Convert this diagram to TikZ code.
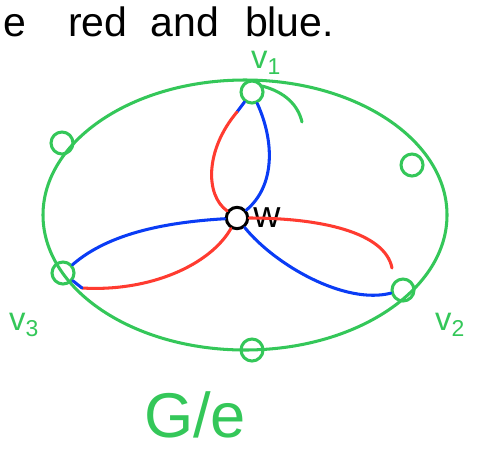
\documentclass[tikz,border=0pt]{standalone}
\usepackage{fontspec}
\setmainfont{Liberation Sans}
\usetikzlibrary{positioning}
\definecolor{grn}{RGB}{52,199,89}
\definecolor{rd}{RGB}{255,59,48}
\definecolor{bl}{RGB}{10,60,245}
\tikzset{
  vtx/.style={circle, draw=grn, line width=2.6pt, minimum size=0.66cm, inner sep=0pt},
  redline/.style={draw=rd, line width=2.6pt, line cap=round},
  blueline/.style={draw=bl, line width=2.6pt, line cap=round},
  greenline/.style={draw=grn, line width=2.6pt, line cap=round},
  lbl/.style={text=grn, font=\fontsize{28}{32}\selectfont}
}
\begin{document}
\begin{tikzpicture}[x=0.03cm, y=-0.03cm]
                \useasboundingbox (0,0) rectangle (481,465);
                \clip (0,0) rectangle (481,465);
                \node (title) at (3,36) [anchor=base west, inner sep=0pt, font=\fontsize{35}{40}\selectfont] {e\hspace{36pt}red\hspace{20pt}and\hspace{22pt}blue.};
                \draw[greenline] (245,215) ellipse (202 and 135);
                \node (v1) at (252,92) [vtx] {};
                \node (v2) at (403,290) [vtx] {};
                \node (v3) at (63,273) [vtx] {};
                \node (a) at (62,143) [vtx] {};
                \node (b) at (412,165) [vtx] {};
                \node (c) at (252,350) [vtx] {};
                \node (w) at (237,218) [circle, draw=black, line width=2.6pt, minimum size=0.64cm, inner sep=0pt] {};
                \node (lw) [right=0cm of w, font=\fontsize{32}{36}\selectfont] {w};
                \node (lv1) at (266,63) [lbl, inner sep=1pt] {v\textsubscript{1}};
                \node (lv2) at (450,325) [lbl] {v\textsubscript{2}};
                \node (lv3) at (24,325) [lbl] {v\textsubscript{3}};
                \node (lge) at (195,415) [text=grn, font=\fontsize{54}{60}\selectfont] {G/e};
                \coordinate (k1) at (262,86);
                \coordinate (k2) at (302,122);
                \draw[greenline] (k1) .. controls (285,92) and (298,105) .. (k2);
                \coordinate (s1) at (237,112);
                \coordinate (s3) at (82,288);
                \coordinate (e2) at (392,268);
                \draw[blueline] (v1) .. controls (274,140) and (276,185) .. (w);
                \draw[blueline] (v1) -- (s1);
                \draw[redline] (s1) .. controls (205,150) and (205,195) .. (w);
                \draw[blueline] (w) .. controls (170,222) and (110,232) .. (v3);
                \draw[redline] (w) .. controls (210,265) and (150,292) .. (s3);
                \draw[blueline] (s3) -- (v3);
                \draw[redline] (w) .. controls (320,218) and (385,232) .. (e2);
                \draw[blueline] (w) .. controls (275,265) and (345,305) .. (v2);
            \end{tikzpicture}
\end{document}
